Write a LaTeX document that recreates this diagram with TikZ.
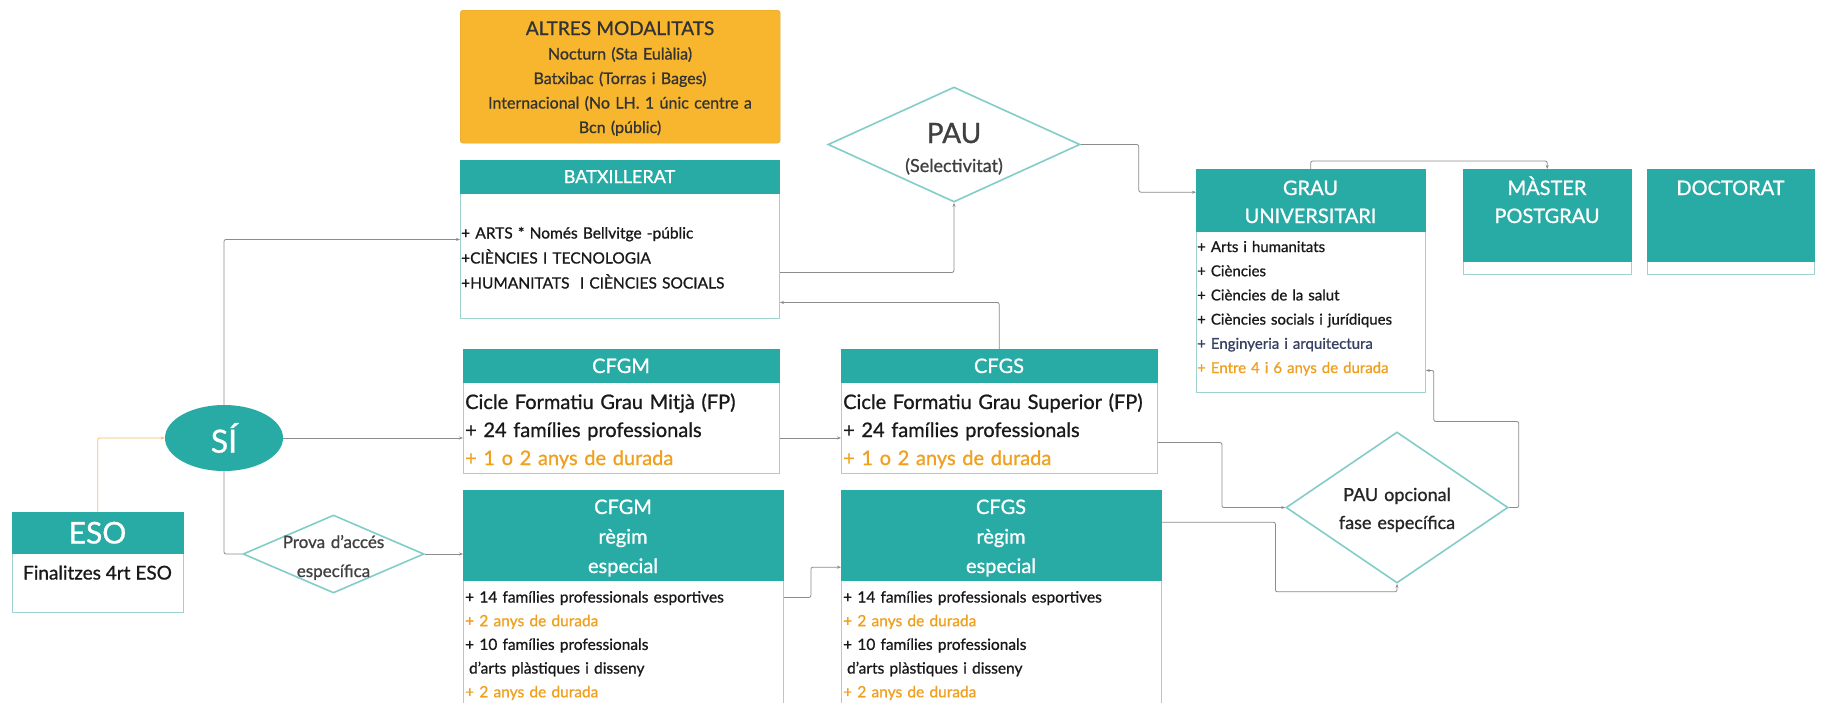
\documentclass[tikz,border=0pt]{standalone}
\usepackage{fontspec}
\setmainfont{Lato}[FakeBold=0.9]
\usetikzlibrary{shapes.geometric,arrows.meta,calc}
\definecolor{teal0}{RGB}{40,170,165}
\definecolor{border0}{RGB}{160,210,208}
\definecolor{diamcol}{RGB}{130,205,200}
\definecolor{orangefill}{RGB}{247,182,46}
\definecolor{orangetext}{RGB}{240,160,30}
\definecolor{linegray}{RGB}{140,140,140}
\definecolor{esoline}{RGB}{245,190,110}
\definecolor{slate}{RGB}{55,65,100}
\definecolor{bodytext}{RGB}{25,25,25}
\tikzset{
  hdr/.style={fill=teal0, draw=teal0, anchor=north west, inner sep=0},
  bodybox/.style={fill=white, draw=border0, line width=0.9pt, anchor=north west, inner sep=0},
  htxt/.style={text=white, anchor=base, align=center, inner sep=0},
  btxt/.style={text=bodytext, anchor=base west, align=left, inner sep=0},
  diam/.style={shape=diamond, draw=diamcol, line width=1.6pt, fill=white, inner sep=0},
  conn/.style={draw=linegray, line width=0.8pt, rounded corners=2pt, -{Stealth[length=4pt,width=3pt]}},
  connplain/.style={draw=linegray, line width=0.8pt, rounded corners=2pt},
}
\begin{document}
\begin{tikzpicture}[x=1pt, y=-1pt]
\useasboundingbox (0,0) rectangle (1821,702);
\clip (0,0) rectangle (1821,702);
\fill[white] (0,0) rectangle (1821,702);

% ALTRES MODALITATS
\node[fill=orangefill, draw=orangefill!90!black, rounded corners=3pt, anchor=north west, inner sep=0, minimum width=320, minimum height=133] (altres) at (460,10) {};
\node[text=black!80, anchor=base, align=center, text width=320, inner sep=0, font=\fontsize{16}{24.5}\selectfont] (altresT) at (620,35)
  {{\fontsize{19}{24.5}\selectfont ALTRES MODALITATS}\\Nocturn (Sta Eulàlia)\\Batxibac (Torras i Bages)\\Internacional (No LH. 1 únic centre a\\Bcn (públic)};

% BATXILLERAT
\node[bodybox, minimum width=319, minimum height=125] (batxB) at (460,193) {};
\node[hdr, minimum width=319, minimum height=33] (batxH) at (460,160) {};
\node[htxt, text width=319, font=\fontsize{18}{22}\selectfont] (batxHT) at (619.5,183) {BATXILLERAT};
\node[btxt, text width=315, font=\fontsize{15.5}{25}\selectfont] (batxT) at (461,238.5)
  {+ ARTS * Només Bellvitge -públic\\+CIÈNCIES I TECNOLOGIA\\+HUMANITATS\ \ I CIÈNCIES SOCIALS};

% CFGM
\node[bodybox, minimum width=316, minimum height=91] (cfgmB) at (463,382) {};
\node[hdr, minimum width=316, minimum height=33] (cfgmH) at (463,349) {};
\node[htxt, text width=316, font=\fontsize{20}{24}\selectfont] (cfgmHT) at (621,373) {CFGM};
\node[btxt, text width=312, font=\fontsize{20}{28}\selectfont] (cfgmT) at (465,409)
  {Cicle Formatiu Grau Mitjà (FP)\\+ 24 famílies professionals\\\textcolor{orangetext}{+ 1 o 2 anys de durada}};

% CFGS
\node[bodybox, minimum width=316, minimum height=91] (cfgsB) at (841,382) {};
\node[hdr, minimum width=316, minimum height=33] (cfgsH) at (841,349) {};
\node[htxt, text width=316, font=\fontsize{20}{24}\selectfont] (cfgsHT) at (999,373) {CFGS};
\node[btxt, text width=312, font=\fontsize{20}{28}\selectfont] (cfgsT) at (843,409)
  {Cicle Formatiu Grau Superior (FP)\\+ 24 famílies professionals\\\textcolor{orangetext}{+ 1 o 2 anys de durada}};

% CFGM especial
\node[bodybox, minimum width=320, minimum height=140] (cfgmEB) at (463,580) {};
\node[hdr, minimum width=320, minimum height=90] (cfgmEH) at (463,490) {};
\node[htxt, text width=320, font=\fontsize{20}{29.5}\selectfont] (cfgmEHT) at (623,514) {CFGM\\règim\\especial};
\node[btxt, text width=316, font=\fontsize{15.5}{23.7}\selectfont] (cfgmET) at (465,602.5)
  {+ 14 famílies professionals esportives\\\textcolor{orangetext}{+ 2 anys de durada}\\+ 10 famílies professionals\\\hspace{0.25em}d'arts plàstiques i disseny\\\textcolor{orangetext}{+ 2 anys de durada}};

% CFGS especial
\node[bodybox, minimum width=320, minimum height=140] (cfgsEB) at (841,580) {};
\node[hdr, minimum width=320, minimum height=90] (cfgsEH) at (841,490) {};
\node[htxt, text width=320, font=\fontsize{20}{29.5}\selectfont] (cfgsEHT) at (1001,514) {CFGS\\règim\\especial};
\node[btxt, text width=316, font=\fontsize{15.5}{23.7}\selectfont] (cfgsET) at (843,602.5)
  {+ 14 famílies professionals esportives\\\textcolor{orangetext}{+ 2 anys de durada}\\+ 10 famílies professionals\\\hspace{0.25em}d'arts plàstiques i disseny\\\textcolor{orangetext}{+ 2 anys de durada}};

% GRAU UNIVERSITARI
\node[bodybox, minimum width=229, minimum height=161] (grauB) at (1196,231) {};
\node[hdr, minimum width=229, minimum height=62] (grauH) at (1196,169) {};
\node[htxt, text width=229, font=\fontsize{20}{28}\selectfont] (grauHT) at (1310.5,195) {GRAU\\UNIVERSITARI};
\node[btxt, text width=226, font=\fontsize{15}{24.2}\selectfont] (grauT) at (1197,252)
  {+ Arts i humanitats\\+ Ciències\\+ Ciències de la salut\\+ Ciències socials i jurídiques\\\textcolor{slate}{+ Enginyeria i arquitectura}\\\textcolor{orangetext}{+ Entre 4 i 6 anys de durada}};

% MASTER
\node[bodybox, minimum width=168, minimum height=105] (masterB) at (1463,169) {};
\node[hdr, minimum width=168, minimum height=92] (masterH) at (1463,169) {};
\node[htxt, text width=168, font=\fontsize{20}{28}\selectfont] (masterHT) at (1547,195) {MÀSTER\\POSTGRAU};

% DOCTORAT
\node[bodybox, minimum width=167, minimum height=105] (docB) at (1647,169) {};
\node[hdr, minimum width=167, minimum height=92] (docH) at (1647,169) {};
\node[htxt, text width=167, font=\fontsize{20}{28}\selectfont] (docHT) at (1730.5,195) {DOCTORAT};

% ESO
\node[bodybox, minimum width=171, minimum height=59] (esoB) at (12,553) {};
\node[hdr, minimum width=171, minimum height=41] (esoH) at (12,512) {};
\node[htxt, text width=171, font=\fontsize{30}{30}\selectfont] (esoHT) at (97.5,543.5) {ESO};
\node[text=bodytext, anchor=base, inner sep=0, font=\fontsize{19}{22}\selectfont] (esoT) at (97.5,579.5) {Finalitzes 4rt ESO};

% SI ellipse
\node[ellipse, fill=teal0, minimum width=118, minimum height=66, inner sep=0, text=white, font=\fontsize{32}{32}\selectfont] (si) at (224,438) {SÍ};

% Diamonds
\node[diam, minimum width=181, minimum height=78] (prova) at (333.5,554) {};
\node[text=black!75, anchor=base, align=center, text width=160, inner sep=0, font=\fontsize{17}{29}\selectfont] (provaT) at (333.5,548) {Prova d'accés\\específica};

\node[diam, minimum width=252, minimum height=115] (pau) at (954,144.5) {};
\node[text=black!75, anchor=base, align=center, text width=200, inner sep=0, font=\fontsize{18}{29}\selectfont] (pauT) at (954,143) {{\fontsize{28}{29}\selectfont PAU}\\(Selectivitat)};

\node[diam, minimum width=222, minimum height=151] (popc) at (1397,507.5) {};
\node[text=black!85, anchor=base, align=center, text width=200, inner sep=0, font=\fontsize{18}{28}\selectfont] (popcT) at (1397,501) {PAU opcional\\fase específica};

% Connectors
\draw[conn, draw=esoline] (esoH.north) |- (si.west);
\draw[conn] (si.north) |- ([yshift=16.5pt]batxB.west);
\draw[conn] (si.east) -- (si.east -| cfgmB.west);
\draw[connplain] (si.south) |- (prova.west);
\draw[conn] (prova.east) -- (prova.east -| cfgmEH.west);
\draw[conn] ([yshift=-10pt]cfgmB.east) -- ([yshift=-10pt]cfgsB.west);
\draw[conn] ([yshift=53pt]cfgmEB.east) -- ++(27,0) |- ([yshift=-32pt]cfgsEH.west);
\draw[conn] (cfgsH.north) |- ([yshift=-46.5pt]batxB.east);
\draw[conn] ([yshift=-16.5pt]batxB.east) -| (pau.south);
\draw[conn] (pau.east) -- ++(58,0) |- ([yshift=8pt]grauH.west);
\draw[conn] (grauH.north) -- ++(0,-8) -| (masterH.north);
\draw[conn] ([yshift=-14.5pt]cfgsB.east) -- ++(64,0) |- (popc.west);
\draw[conn] ([yshift=13pt]cfgsEH.east) -- ++(114,0) |- ([yshift=-8pt]popc.south) -- (popc.south);
\draw[conn] (popc.east) -- ++(10,0) -- ++(0,-86) -- ++(-85,0) |- ([yshift=-58.5pt]grauB.east);
\end{tikzpicture}
\end{document}
